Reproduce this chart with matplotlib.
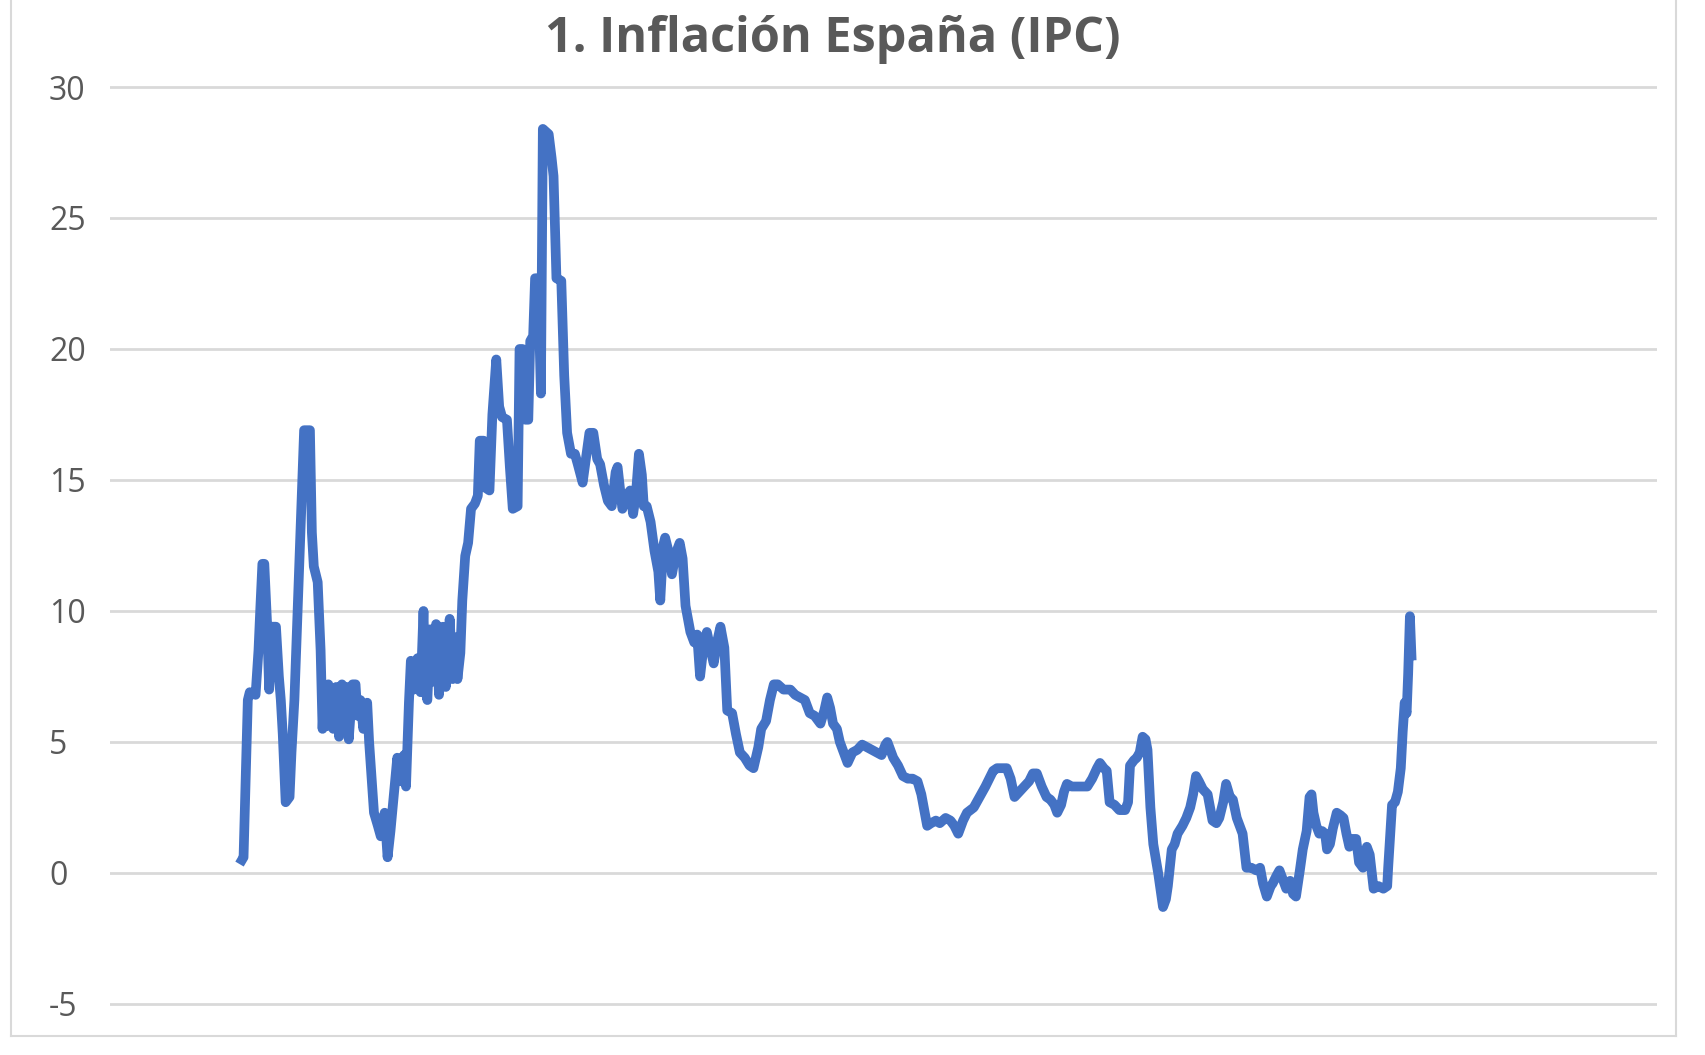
import matplotlib
matplotlib.use("Agg")
import matplotlib.pyplot as plt
from matplotlib.lines import Line2D

# --- data (year fraction, % yoy) ---
years = [
    1962.00, 1962.08, 1962.30, 1962.40, 1962.70, 1962.85, 1962.95, 1963.05, 1963.15, 1963.30,
    1963.40, 1963.55, 1963.75, 1963.90, 1964.00, 1964.10, 1964.25, 1964.45, 1964.55, 1964.70,
    1964.95, 1965.20, 1965.50, 1965.60, 1965.70, 1965.90, 1966.05, 1966.15, 1966.25, 1966.35,
    1966.45, 1966.60, 1966.70, 1966.85, 1967.00, 1967.15, 1967.30, 1967.40, 1967.50, 1967.70,
    1967.85, 1967.95, 1968.10, 1968.25, 1968.45, 1968.55, 1968.80, 1969.00, 1969.15, 1969.35,
    1969.50, 1969.65, 1969.80, 1970.00, 1970.15, 1970.35, 1970.45, 1970.60, 1970.70, 1970.85,
    1971.05, 1971.20, 1971.35, 1971.45, 1971.55, 1971.70, 1971.85, 1972.00, 1972.15, 1972.35,
    1972.50, 1972.70, 1972.85, 1973.00, 1973.10, 1973.25, 1973.35, 1973.50, 1973.65, 1973.80,
    1974.00, 1974.15, 1974.25, 1974.45, 1974.55, 1974.75, 1974.90, 1975.10, 1975.25, 1975.40,
    1975.65, 1975.80, 1975.95, 1976.20, 1976.30, 1976.45, 1976.60, 1976.75, 1976.85, 1977.00,
    1977.10, 1977.25, 1977.40, 1977.50, 1977.80, 1977.95, 1978.05, 1978.20, 1978.45, 1978.60,
    1978.75, 1978.95, 1979.15, 1979.30, 1979.55, 1979.75, 1979.90, 1980.10, 1980.30, 1980.45,
    1980.65, 1980.85, 1981.05, 1981.25, 1981.35, 1981.50, 1981.60, 1981.80, 1982.00, 1982.15,
    1982.30, 1982.45, 1982.60, 1982.70, 1982.85, 1983.05, 1983.25, 1983.45, 1983.55, 1983.70,
    1983.80, 1984.00, 1984.15, 1984.35, 1984.55, 1984.70, 1984.85, 1985.10, 1985.30, 1985.45,
    1985.60, 1985.80, 1985.95, 1986.15, 1986.30, 1986.50, 1986.65, 1986.85, 1987.00, 1987.25,
    1987.45, 1987.65, 1987.90, 1988.15, 1988.35, 1988.60, 1988.75, 1989.00, 1989.20, 1989.40,
    1989.60, 1989.90, 1990.25, 1990.50, 1990.75, 1991.00, 1991.25, 1991.50, 1991.80, 1992.00,
    1992.15, 1992.30, 1992.45, 1992.65, 1992.80, 1993.00, 1993.20, 1993.45, 1993.70, 1993.95,
    1994.20, 1994.45, 1994.70, 1994.95, 1995.15, 1995.25, 1995.45, 1995.55, 1995.80, 1996.05,
    1996.30, 1996.55, 1996.80, 1997.00, 1997.30, 1997.50, 1997.75, 1997.95, 1998.25, 1998.50,
    1998.70, 1998.90, 1999.15, 1999.35, 1999.70, 2000.00, 2000.30, 2000.50, 2000.70, 2000.90,
    2001.15, 2001.40, 2001.60, 2001.80, 2002.05, 2002.30, 2002.55, 2002.75, 2002.95, 2003.20,
    2003.45, 2003.65, 2003.85, 2004.00, 2004.20, 2004.35, 2004.50, 2004.75, 2005.00, 2005.30,
    2005.55, 2005.80, 2006.05, 2006.20, 2006.40, 2006.55, 2006.70, 2006.95, 2007.20, 2007.50,
    2007.65, 2007.75, 2007.95, 2008.10, 2008.25, 2008.40, 2008.55, 2008.65, 2008.80, 2008.95,
    2009.20, 2009.45, 2009.60, 2009.70, 2009.90, 2010.05, 2010.20, 2010.45, 2010.65, 2010.85,
    2011.00, 2011.15, 2011.30, 2011.50, 2011.75, 2012.00, 2012.20, 2012.35, 2012.55, 2012.70,
    2012.90, 2013.05, 2013.25, 2013.40, 2013.55, 2013.75, 2014.00, 2014.25, 2014.45, 2014.60,
    2014.80, 2015.00, 2015.10, 2015.30, 2015.45, 2015.65, 2015.80, 2016.00, 2016.15, 2016.30,
    2016.50, 2016.65, 2016.85, 2017.00, 2017.10, 2017.20, 2017.35, 2017.50, 2017.65, 2017.80,
    2017.90, 2018.05, 2018.20, 2018.40, 2018.60, 2018.75, 2018.90, 2019.05, 2019.20, 2019.40,
    2019.55, 2019.75, 2019.95, 2020.10, 2020.30, 2020.55, 2020.80, 2021.00, 2021.05, 2021.25,
    2021.40, 2021.55, 2021.70, 2021.80, 2021.90, 2022.00, 2022.08, 2022.17, 2022.25,
]
ipc = [
    0.5, 0.6, 6.6, 6.9, 6.8, 8.5, 10.2, 11.8, 11.8, 9.4,
    7.0, 9.4, 9.4, 7.5, 6.6, 5.3, 2.7, 2.9, 4.6, 6.6,
    11.7, 16.9, 16.9, 13.0, 11.7, 11.1, 8.5, 5.5, 7.2, 5.6,
    7.2, 6.6, 5.5, 7.1, 5.2, 7.2, 5.4, 7.1, 5.1, 7.2,
    7.2, 6.0, 6.6, 5.5, 6.5, 5.0, 2.3, 1.8, 1.4, 2.3,
    0.6, 1.6, 2.8, 4.4, 3.5, 4.5, 3.3, 6.5, 8.1, 7.0,
    8.2, 6.9, 10.0, 7.0, 6.6, 9.3, 7.3, 9.5, 6.8, 9.4,
    7.1, 9.7, 7.4, 9.0, 7.4, 8.4, 10.4, 12.1, 12.6, 13.9,
    14.1, 14.4, 16.5, 16.5, 14.7, 14.6, 17.5, 19.6, 17.8, 17.4,
    17.3, 15.5, 13.9, 14.0, 20.0, 20.0, 17.3, 17.3, 20.3, 20.5,
    22.7, 22.7, 18.3, 28.4, 28.2, 27.3, 26.6, 22.7, 22.6, 19.0,
    16.8, 16.0, 16.0, 15.6, 14.9, 16.0, 16.8, 16.8, 15.8, 15.6,
    14.8, 14.2, 14.0, 15.3, 15.5, 14.5, 13.9, 14.4, 14.6, 13.7,
    14.5, 16.0, 15.2, 14.0, 14.0, 13.4, 12.3, 11.5, 10.4, 12.5,
    12.8, 12.2, 11.4, 12.2, 12.6, 12.0, 10.2, 9.2, 8.8, 9.1,
    7.5, 8.8, 9.2, 8.5, 8.0, 8.9, 9.4, 8.6, 6.2, 6.1,
    5.3, 4.6, 4.4, 4.1, 4.0, 4.8, 5.5, 5.8, 6.6, 7.2,
    7.2, 7.0, 7.0, 6.8, 6.7, 6.6, 6.1, 6.0, 5.7, 6.2,
    6.7, 6.3, 5.7, 5.5, 5.0, 4.6, 4.2, 4.6, 4.7, 4.9,
    4.8, 4.7, 4.6, 4.5, 4.9, 5.0, 4.6, 4.4, 4.1, 3.7,
    3.6, 3.6, 3.5, 3.0, 1.8, 1.9, 2.0, 1.9, 2.1, 2.0,
    1.8, 1.5, 2.0, 2.3, 2.5, 2.9, 3.3, 3.6, 3.9, 4.0,
    4.0, 4.0, 3.6, 2.9, 3.1, 3.3, 3.5, 3.8, 3.8, 3.3,
    2.9, 2.8, 2.6, 2.3, 2.6, 3.1, 3.4, 3.3, 3.3, 3.3,
    3.3, 3.6, 4.0, 4.2, 4.0, 3.9, 2.7, 2.6, 2.4, 2.4,
    2.7, 4.1, 4.3, 4.4, 4.6, 5.2, 5.1, 4.7, 2.5, 1.1,
    0.0, -1.3, -1.0, -0.5, 0.9, 1.1, 1.5, 1.8, 2.1, 2.5,
    3.0, 3.7, 3.5, 3.2, 3.0, 2.0, 1.9, 2.1, 2.7, 3.4,
    2.9, 2.8, 2.1, 1.8, 1.5, 0.2, 0.2, 0.1, 0.2, -0.4,
    -0.9, -0.5, -0.4, -0.1, 0.1, -0.3, -0.6, -0.3, -0.8, -0.9,
    0.1, 0.9, 1.6, 2.9, 3.0, 2.3, 1.8, 1.5, 1.6, 1.5,
    0.9, 1.1, 1.7, 2.3, 2.2, 2.1, 1.5, 1.0, 1.3, 1.3,
    0.4, 0.2, 1.0, 0.7, -0.6, -0.5, -0.6, -0.5, 0.2, 2.6,
    2.7, 3.1, 4.0, 5.4, 6.5, 6.1, 7.6, 9.8, 8.3,
]
y_ticks = [-5, 0, 5, 10, 15, 20, 25, 30]
title = "1. Inflación España (IPC)"

W, H = 1706, 1055
fig = plt.figure(figsize=(W / 100, H / 100), dpi=100)
fig.patch.set_facecolor("white")

ax = fig.add_axes([110 / W, 0.0434, (1657 - 110) / W, 0.8791])
ax.plot(years, ipc, color="#4472C4", lw=7, solid_joinstyle="round")

ax.set_xlim(1955.2, 2034.9)
ax.set_ylim(-5.2, 30.2)
ax.set_yticks(y_ticks)
ax.set_yticklabels([str(t) for t in y_ticks])
ax.set_xticks([])
ax.grid(axis="y", color="#D9D9D9", lw=2.0)
ax.set_axisbelow(True)
for s in ax.spines.values():
    s.set_visible(False)

ax.tick_params(axis="y", length=0, pad=44, labelsize=23, labelcolor="#595959")
for lbl in ax.get_yticklabels():
    lbl.set_horizontalalignment("left")
    lbl.set_fontfamily("Open Sans")

fig.text(833 / W, 1 - 40 / H, title, ha="center", va="center",
         fontsize=35, fontweight="bold", color="#595959", family="Open Sans")

# chart border (left, right, bottom)
bc = "#D9D9D9"
fig.add_artist(Line2D([11 / W, 11 / W], [1 - 1036 / H, 1.0], color=bc, lw=1.5))
fig.add_artist(Line2D([1676 / W, 1676 / W], [1 - 1036 / H, 1.0], color=bc, lw=1.5))
fig.add_artist(Line2D([11 / W, 1676 / W], [1 - 1036 / H, 1 - 1036 / H], color=bc, lw=1.5))

fig.savefig("out.png", dpi=100, facecolor="white")
